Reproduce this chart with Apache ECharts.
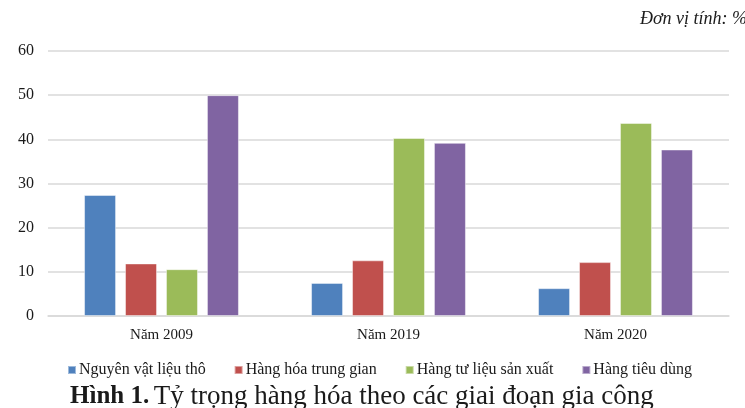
<!DOCTYPE html>
<html>
<head>
<meta charset="utf-8">
<script src="https://cdn.jsdelivr.net/npm/echarts@6/dist/echarts.min.js"></script>
<style>
  html, body { margin: 0; padding: 0; background: #fff; }
  #chart { width: 745px; height: 408px; }
</style>
</head>
<body>
<div id="chart"></div>
<script>
// Categories (years) and share of goods by processing stage, in %
const categories = ['Năm 2009', 'Năm 2019', 'Năm 2020'];
const seriesNames = ['Nguyên vật liệu thô', 'Hàng hóa trung gian', 'Hàng tư liệu sản xuất', 'Hàng tiêu dùng'];
const rawMaterials = [27.4, 7.5, 6.3];
const intermediateGoods = [11.9, 12.6, 12.2];
const capitalGoods = [10.6, 40.3, 43.7];
const consumerGoods = [50.0, 39.2, 37.7];
const yTicks = { min: 0, max: 60, interval: 10 };

const colors = ['#4F81BD', '#C0504D', '#9BBB59', '#8064A2'];
const values = [rawMaterials, intermediateGoods, capitalGoods, consumerGoods];
const serif = '"Liberation Serif", "DejaVu Serif", serif';
const ink = '#1a1a1a';

const chart = echarts.init(document.getElementById('chart'), null, { renderer: 'canvas' });
chart.setOption({
  animation: false,
  color: colors,
  textStyle: { fontFamily: serif },
  title: [
    {
      text: 'Đơn vị tính: %',
      right: -7,
      top: 5,
      textStyle: { fontFamily: serif, fontStyle: 'italic', fontWeight: 'normal', fontSize: 18, color: ink }
    },
    {
      text: '{b|Hình 1.} {n|Tỷ trọng hàng hóa theo các giai đoạn gia công}',
      left: 65,
      top: 378,
      textStyle: {
        rich: {
          b: { fontFamily: serif, fontWeight: 'bold', fontSize: 25, color: ink },
          n: { fontFamily: serif, fontWeight: 'normal', fontSize: 27, color: ink }
        }
      }
    }
  ],
  legend: {
    data: seriesNames,
    left: 62,
    top: 357,
    icon: 'rect',
    itemWidth: 8,
    itemHeight: 8,
    itemGap: 28,
    textStyle: { fontFamily: serif, fontSize: 16, color: ink, padding: [0, 0, 0, -2] }
  },
  grid: { left: 48, right: 16, top: 51, bottom: 92, containLabel: false },
  xAxis: {
    type: 'category',
    data: categories,
    axisLine: { show: true, lineStyle: { color: '#d9d9d9', width: 1.5 } },
    axisTick: { show: false },
    axisLabel: { fontFamily: serif, fontSize: 15, color: ink, margin: 12 }
  },
  yAxis: {
    type: 'value',
    min: yTicks.min,
    max: yTicks.max,
    interval: yTicks.interval,
    axisLine: { show: false },
    axisTick: { show: false },
    axisLabel: { fontFamily: serif, fontSize: 16, color: ink, margin: 14 },
    splitLine: { lineStyle: { color: '#d9d9d9', width: 1.5 } }
  },
  series: seriesNames.map((name, i) => ({
    name,
    type: 'bar',
    data: values[i],
    barWidth: 32,
    barGap: '28%',
    itemStyle: { color: colors[i], borderColor: 'rgba(255,255,255,0.45)', borderWidth: 1 }
  }))
});
</script>
</body>
</html>
